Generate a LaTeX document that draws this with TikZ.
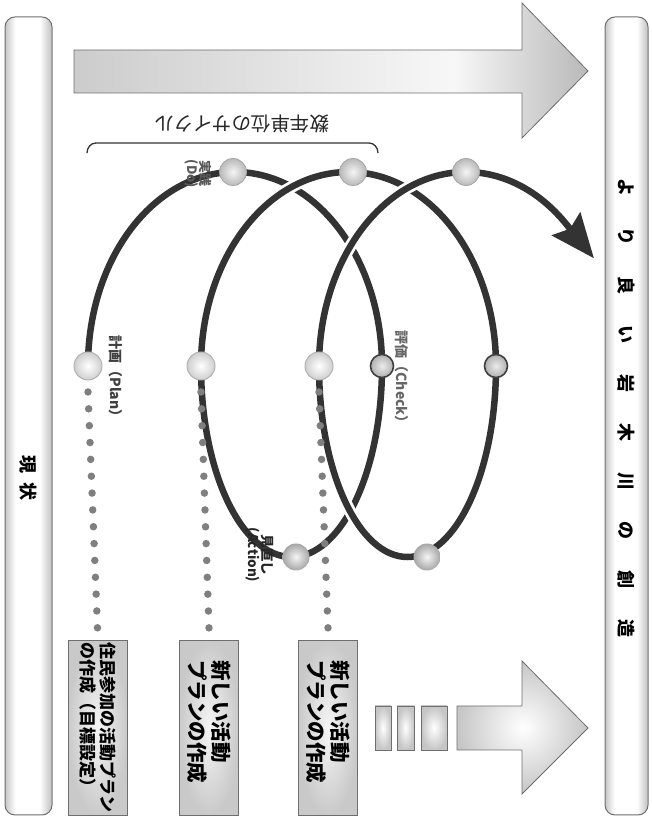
\documentclass[tikz,border=0pt]{standalone}
\usepackage{fontspec}
\newfontfamily\jp{Noto Sans CJK JP}
\usetikzlibrary{arrows.meta,calc,shadings}
\definecolor{spiralc}{HTML}{333333}
\definecolor{dotc}{HTML}{7F7F7F}
\definecolor{edgec}{HTML}{6E6E6E}
\pgfdeclarehorizontalshading{barshade}{100bp}{color(0bp)=(gray!45); color(25bp)=(gray!45); color(36bp)=(white); color(62bp)=(white); color(75bp)=(gray!50); color(100bp)=(gray!50)}
\pgfdeclarehorizontalshading{topshade}{100bp}{color(0bp)=(gray!40); color(25bp)=(gray!40); color(62bp)=(gray!6); color(75bp)=(gray!55); color(100bp)=(gray!55)}
\newcommand{\gapR}{\hspace{31pt}}
\begin{document}
\begin{tikzpicture}[x=1pt,y=1pt,
  bar/.style={draw=edgec, line width=1pt, rounded corners=10pt, shading=barshade},
  spiral/.style={draw=spiralc, line width=6.5pt},
  halo/.style={draw=white, line width=12pt},
  sphere/.style={circle, inner sep=0pt, shading=radial},
  planball/.style={sphere, minimum size=28pt, inner color=white, outer color=gray!38, draw=gray!60, line width=1pt},
  doball/.style={sphere, minimum size=27pt, inner color=gray!8, outer color=gray!55, draw=gray!70, line width=0.8pt},
  checkball/.style={sphere, minimum size=23pt, inner color=gray!15, outer color=gray!62, draw=black!75, line width=1.6pt},
  actball/.style={sphere, minimum size=27pt, inner color=gray!8, outer color=gray!70},
  dotline/.style={draw=dotc, line width=7.5pt, line cap=round, dash pattern=on 0pt off 16.857pt},
  planbox/.style={rotate=-90, draw=edgec, line width=1pt, inner color=gray!8, outer color=gray!42, minimum height=59pt, align=left, anchor=west},
  lbl/.style={rotate=-90, font=\jp\bfseries\fontsize{14}{16}\selectfont, anchor=west},
  shapefill/.style={shading=radial, inner color=white, outer color=gray!45, draw=edgec, line width=0.8pt},
]
\useasboundingbox (0,0) rectangle (651,821);
% side bars
\path[bar] (5,6) rectangle (52,804);
\path[bar] (605,6) rectangle (648,804);
\node[rotate=-90, font=\jp\bfseries\fontsize{18}{18}\selectfont] (genjo) at (28.5,343) {現\hspace{9pt}状};
\node[rotate=-90, font=\jp\bfseries\fontsize{18}{18}\selectfont] (goal) at (626.5,412.5) {よ\gapR り\gapR 良\gapR い\gapR 岩\gapR 木\gapR 川\gapR の\gapR 創\gapR 造};
% top arrow
\path[shading=topshade, draw=edgec, line width=0.8pt] (74,728) -- (522,728) -- (522,683) -- (588,750) -- (522,818) -- (522,771) -- (74,771) -- cycle;
% bottom arrow and blocks
\path[shapefill] (457,71) -- (522,71) -- (522,27) -- (588,93) -- (522,160) -- (522,115) -- (457,115) -- cycle;
\path[shapefill] (375,71) rectangle (391,115);
\path[shapefill] (397,71) rectangle (414,115);
\path[shapefill] (421,71) rectangle (447,115);
% plan boxes
\node[planbox, font=\jp\bfseries\fontsize{17}{20}\selectfont, text width=170pt, inner xsep=2.5pt] (box1) at (97.5,181) {住民参加の活動プラン\\の作成（目標設定）};
\node[planbox, font=\jp\bfseries\fontsize{20.5}{24}\selectfont, text width=135pt, inner xsep=20pt] (box2) at (209,181) {新しい活動\\プランの作成};
\node[planbox, font=\jp\bfseries\fontsize{20.5}{24}\selectfont, text width=135pt, inner xsep=20pt] (box3) at (328,181) {新しい活動\\プランの作成};
% brace
\draw[line width=1.3pt, spiralc] (87,668) to[out=90,in=180] (96,678) -- (369,678) to[out=0,in=90] (378,668);
\node[rotate=180, font=\jp\fontsize{19.5}{20}\selectfont, text=black!85] (cyc) at (242,697) {数年単位のサイクル};
% spiral
\coordinate (P1) at (88,455);
\coordinate (D1) at (233,649);
\coordinate (C1) at (382,455);
\coordinate (A1) at (296,264);
\coordinate (P2) at (201,455);
\coordinate (D2) at (353,649);
\coordinate (C2) at (496,455);
\coordinate (A2) at (427,264);
\coordinate (P3) at (319,455);
\coordinate (D3) at (466,649);
\draw[spiral] (P1) arc[start angle=180, end angle=0, x radius=147, y radius=194];
\draw[spiral] (C1) arc[start angle=0, end angle=-180, x radius=90.5, y radius=191];
\draw[halo] (P2) arc[start angle=180, end angle=0, x radius=147.5, y radius=194];
\draw[spiral] (P2) arc[start angle=180, end angle=0, x radius=147.5, y radius=194];
\draw[halo] (C2) arc[start angle=0, end angle=-180, x radius=88.5, y radius=191];
\draw[spiral] (C2) arc[start angle=0, end angle=-180, x radius=88.5, y radius=191];
\draw[halo] (P3) arc[start angle=180, end angle=47, x radius=147, y radius=194];
\draw[spiral, -{Stealth[length=44pt, width=36pt, inset=6pt]}] (P3) arc[start angle=180, end angle=47, x radius=147, y radius=194] -- ++(-51:44);
% dotted lines
\draw[dotline] ([yshift=-26pt]P1) -- ([yshift=12pt]box1.west);
\draw[dotline] ([yshift=-26pt]P2) -- ([yshift=12pt]box2.west);
\draw[dotline] ([yshift=-26pt]P3) -- ([yshift=12pt]box3.west);
% spheres
\node[planball] (p1) at (P1) {};
\node[planball] (p2) at (P2) {};
\node[planball] (p3) at (P3) {};
\node[doball] (d1) at (D1) {};
\node[doball] (d2) at (D2) {};
\node[doball] (d3) at (D3) {};
\node[checkball] (c1) at (C1) {};
\node[checkball] (c2) at (C2) {};
\node[actball] (a1) at (A1) {};
\node[actball] (a2) at (A2) {};
% labels
\node[lbl, text=black!75] (plbl) at (116,489) {計画（Plan）};
\node[lbl, text=black!60] (clbl) at (402,494) {評価（Check）};
\node[rotate=-90, align=center, font=\jp\bfseries\fontsize{13}{13.5}\selectfont, text=black!65] (dlbl) at (198,647) {実践\\(Do)};
\node[rotate=-90, align=center, font=\jp\bfseries\fontsize{13.5}{14}\selectfont, text=black!85] (albl) at (260,266) {見直し\\(Action)};
\end{tikzpicture}
\end{document}
